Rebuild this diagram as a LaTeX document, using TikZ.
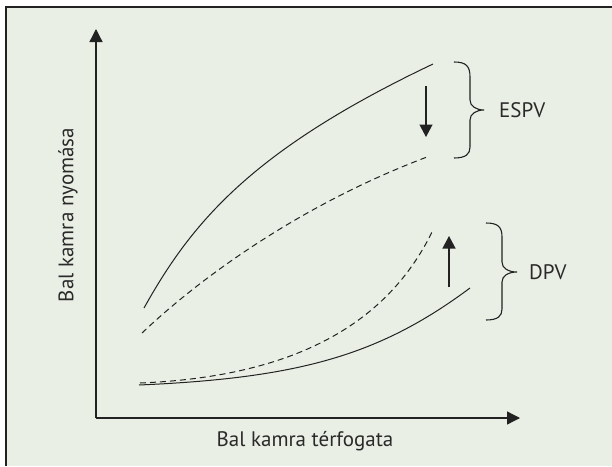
\documentclass[tikz,border=0pt]{standalone}
\usepackage{fontspec}
\setmainfont{PT Sans}
\usetikzlibrary{arrows.meta}
\definecolor{bgc}{HTML}{E9EFE4}
\definecolor{ink}{HTML}{222222}
\definecolor{txt}{HTML}{2A2A2A}
\tikzset{
  axis/.style={draw=ink, line width=1.3pt, -{Triangle[length=13pt,width=13pt]}},
  curve/.style={draw=ink, line width=1pt},
  dcurve/.style={draw=ink, line width=1pt, dash pattern=on 6pt off 4pt},
  shiftarrow/.style={draw=ink, line width=1.3pt, -{Triangle[length=12.5pt,width=13pt]}},
  bracepath/.style={draw=ink, line width=1.1pt},
  lbl/.style={font=\fontsize{21}{24}\selectfont, text=txt, inner sep=0pt},
}
\begin{document}
\begin{tikzpicture}[x=1pt,y=-1pt]
\useasboundingbox (0,0) rectangle (612,466);
\fill[white] (0,0) rectangle (612,466);
\fill[bgc] (6,7) rectangle (612,466);
\draw[ink, line width=1.3pt] (6,466) -- (6,7) -- (612,7);

% axes
\coordinate (O) at (96,418);
\coordinate (Ytop) at (96,29);
\coordinate (Xend) at (520,418);
\draw[axis] (O) -- (Ytop);
\draw[axis] (O) -- (Xend);

% upper solid curve
\coordinate (us0) at (144,308);
\coordinate (us1) at (433,64);
\draw[curve] (us0) .. controls (192,222) and (252,150) .. (us1);

% upper dashed curve
\coordinate (ud0) at (142,333);
\coordinate (ud1) at (427,157);
\draw[dcurve] (ud0) .. controls (200,278) and (300,205) .. (ud1);

% lower dashed curve
\coordinate (ld0) at (140,383);
\coordinate (ld1) at (433,230);
\draw[dcurve] (ld0) .. controls (285,377) and (385,330) .. (ld1);

% lower solid curve
\coordinate (ls0) at (139,385);
\coordinate (ls1) at (470,288);
\draw[curve] (ls0) .. controls (300,378) and (380,355) .. (ls1);

% shift arrows
\coordinate (da0) at (426,86);
\coordinate (da1) at (426,137);
\draw[shiftarrow] (da0) -- (da1);
\coordinate (ua0) at (449,287);
\coordinate (ua1) at (449,236);
\draw[shiftarrow] (ua0) -- (ua1);

% braces
\draw[bracepath] (454,62) .. controls (466,62) and (470,66) .. (470,77) -- (470,100)
  .. controls (470,106) and (476,110) .. (484,110)
  .. controls (476,110) and (470,114) .. (470,120) -- (470,147)
  .. controls (470,154) and (466,158) .. (454,158);
\draw[bracepath] (486,223) .. controls (498,223) and (502,227) .. (502,237) -- (502,262)
  .. controls (502,268) and (508,272) .. (517,272)
  .. controls (508,272) and (502,276) .. (502,282) -- (502,309)
  .. controls (502,316) and (498,320) .. (486,320);

% labels
\node[lbl, anchor=west] (espv) at (499,110) {ESPV};
\node[lbl, anchor=west] (dpv) at (529,272) {DPV};
\node[lbl] (xl) at (305,441) {Bal kamra térfogata};
\node[lbl, rotate=90] (yl) at (68,215) {Bal kamra nyomása};
\end{tikzpicture}
\end{document}
